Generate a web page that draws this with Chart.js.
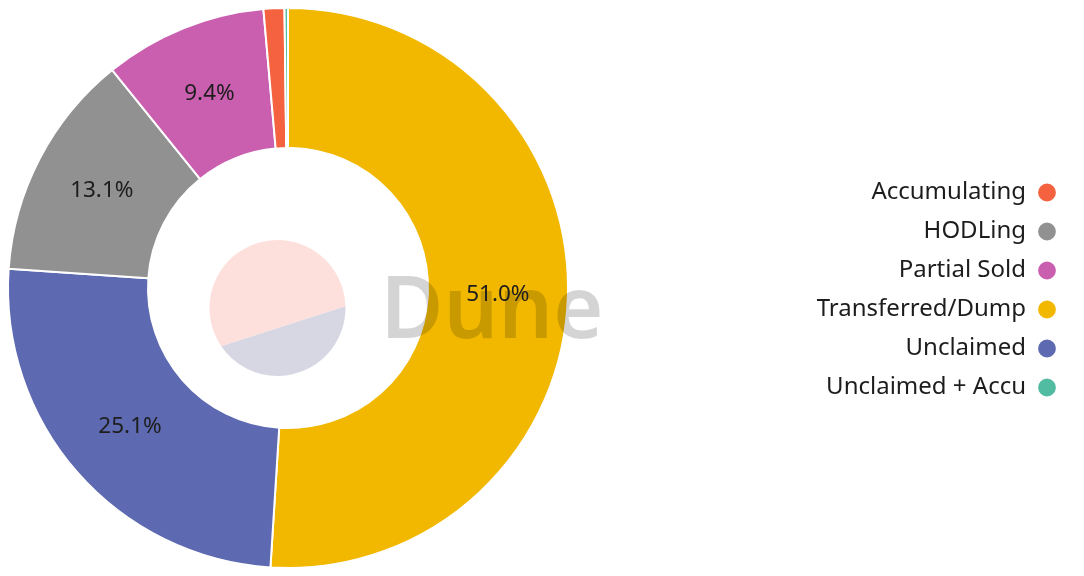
<!DOCTYPE html>
<html>
<head>
<meta charset="utf-8">
<script src="https://cdn.jsdelivr.net/npm/chart.js@4.4.0/dist/chart.umd.min.js"></script>
<style>
  html, body { margin: 0; padding: 0; background: #fff; }
  #wrap { width: 1084px; height: 576px; }
</style>
</head>
<body>
<div id="wrap"><canvas id="pieChart"></canvas></div>
<script>
// slices, clockwise from 12 o'clock
const categories = ['Transferred/Dump', 'Unclaimed', 'HODLing', 'Partial Sold', 'Accumulating', 'Unclaimed + Accu'];
const shares = [51.0, 25.1, 13.1, 9.4, 1.2, 0.2];
const sliceColors = ['#f2b800', '#5d69b1', '#919191', '#ca5fb0', '#f4623f', '#52bca3'];

const FONT = '"Noto Sans", "Open Sans", sans-serif';

// legend box is made wide so the doughnut sits on the left like in the dashboard
const legendWidth = {
    id: 'legendWidth',
    beforeInit(chart) {
        const fit = chart.legend.fit;
        chart.legend.fit = function() {
            fit.bind(chart.legend)();
            this.width = 495;
        };
    },
    afterLayout(chart) {
        // nudge the legend rows down a little
        chart.legend.top += 2;
        chart.legend.bottom += 2;
    }
};

const sliceLabels = {
    id: 'sliceLabels',
    afterDatasetsDraw(chart) {
        const ctx = chart.ctx;
        ctx.save();

        // watermark + logo
        ctx.fillStyle = 'rgba(0,0,0,0.17)';
        ctx.font = '600 86px ' + FONT;
        ctx.textAlign = 'center';
        ctx.textBaseline = 'alphabetic';
        ctx.fillText('Dune', 492, 338);

        const cx = 277.5, cy = 308, r = 68;
        const a1 = -1.5 * Math.PI / 180, a2 = 145.8 * Math.PI / 180;
        ctx.beginPath();
        ctx.arc(cx, cy, r, a2, a1 + 2 * Math.PI);
        ctx.closePath();
        ctx.fillStyle = '#fde0dc';
        ctx.fill();
        ctx.beginPath();
        ctx.arc(cx, cy, r, a1, a2);
        ctx.closePath();
        ctx.fillStyle = '#d7d7e4';
        ctx.fill();

        // percent labels
        const meta = chart.getDatasetMeta(0);
        ctx.fillStyle = '#1d1d1d';
        ctx.font = '22.5px ' + FONT;
        ctx.textBaseline = 'middle';
        meta.data.forEach(function(arc, i) {
            const v = shares[i];
            if (v < 5) return;
            const p = arc.tooltipPosition();
            ctx.fillText(v.toFixed(1) + '%', p.x, p.y);
        });
        ctx.restore();
    }
};

const ctx = document.getElementById('pieChart').getContext('2d');
const myChart = new Chart(ctx, {
    type: 'doughnut',
    data: {
        labels: categories,
        datasets: [{
            data: shares,
            backgroundColor: sliceColors,
            borderColor: '#ffffff',
            borderWidth: 2
        }]
    },
    options: {
        responsive: true,
        maintainAspectRatio: false,
        animation: false,
        cutout: '50%',
        layout: {
            padding: { top: 7, bottom: 7, left: 0, right: 13 }
        },
        plugins: {
            tooltip: { enabled: false },
            legend: {
                position: 'right',
                rtl: true,
                align: 'center',
                labels: {
                    usePointStyle: true,
                    pointStyle: 'circle',
                    boxWidth: 18,
                    boxHeight: 14,
                    padding: 15,
                    color: '#1d1d1d',
                    font: { size: 24, family: FONT },
                    sort: function(a, b) { return a.text.localeCompare(b.text); }
                }
            }
        }
    },
    plugins: [legendWidth, sliceLabels]
});
</script>
</body>
</html>
